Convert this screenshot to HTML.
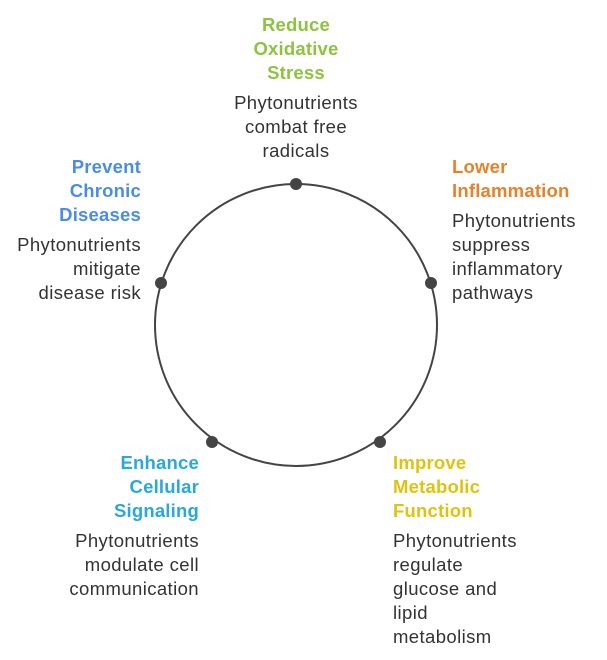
<!DOCTYPE html>
<html><head><meta charset="utf-8"><style>
html,body{margin:0;padding:0;background:#fff;}
body{width:607px;height:660px;position:relative;overflow:hidden;font-family:"Liberation Sans",Arial,sans-serif;}
.b{position:absolute;font-size:18.5px;letter-spacing:0.4px;line-height:24px;white-space:nowrap;}
.t{font-weight:bold;letter-spacing:0.2px;}
.d{color:#333;}
.r{text-align:right;}
.c{text-align:center;}
</style></head><body>
<svg width="607" height="660" style="position:absolute;left:0;top:0">
<circle cx="296" cy="325" r="141" fill="none" stroke="#444" stroke-width="2"/>
<circle cx="296" cy="184" r="6" fill="#444"/>
<circle cx="431" cy="283" r="6" fill="#444"/>
<circle cx="380" cy="442" r="6" fill="#444"/>
<circle cx="212" cy="442" r="6" fill="#444"/>
<circle cx="161" cy="283" r="6" fill="#444"/>
</svg>
<div class="b t c" style="left:196px;width:200px;top:13px;color:#8dc33f">Reduce<br>Oxidative<br>Stress</div>
<div class="b d c" style="left:196px;width:200px;top:91px">Phytonutrients<br>combat free<br>radicals</div>

<div class="b t r" style="right:466px;top:155px;color:#4a8de8">Prevent<br>Chronic<br>Diseases</div>
<div class="b d r" style="right:466px;top:233px">Phytonutrients<br>mitigate<br>disease risk</div>

<div class="b t" style="left:452px;top:155px;color:#e8822a">Lower<br>Inflammation</div>
<div class="b d" style="left:452px;top:209px">Phytonutrients<br>suppress<br>inflammatory<br>pathways</div>

<div class="b t r" style="right:408px;top:451px;color:#29a8df">Enhance<br>Cellular<br>Signaling</div>
<div class="b d r" style="right:408px;top:529px">Phytonutrients<br>modulate cell<br>communication</div>

<div class="b t" style="left:393px;top:451px;color:#e0c30f">Improve<br>Metabolic<br>Function</div>
<div class="b d" style="left:393px;top:529px">Phytonutrients<br>regulate<br>glucose and<br>lipid<br>metabolism</div>
</body></html>
